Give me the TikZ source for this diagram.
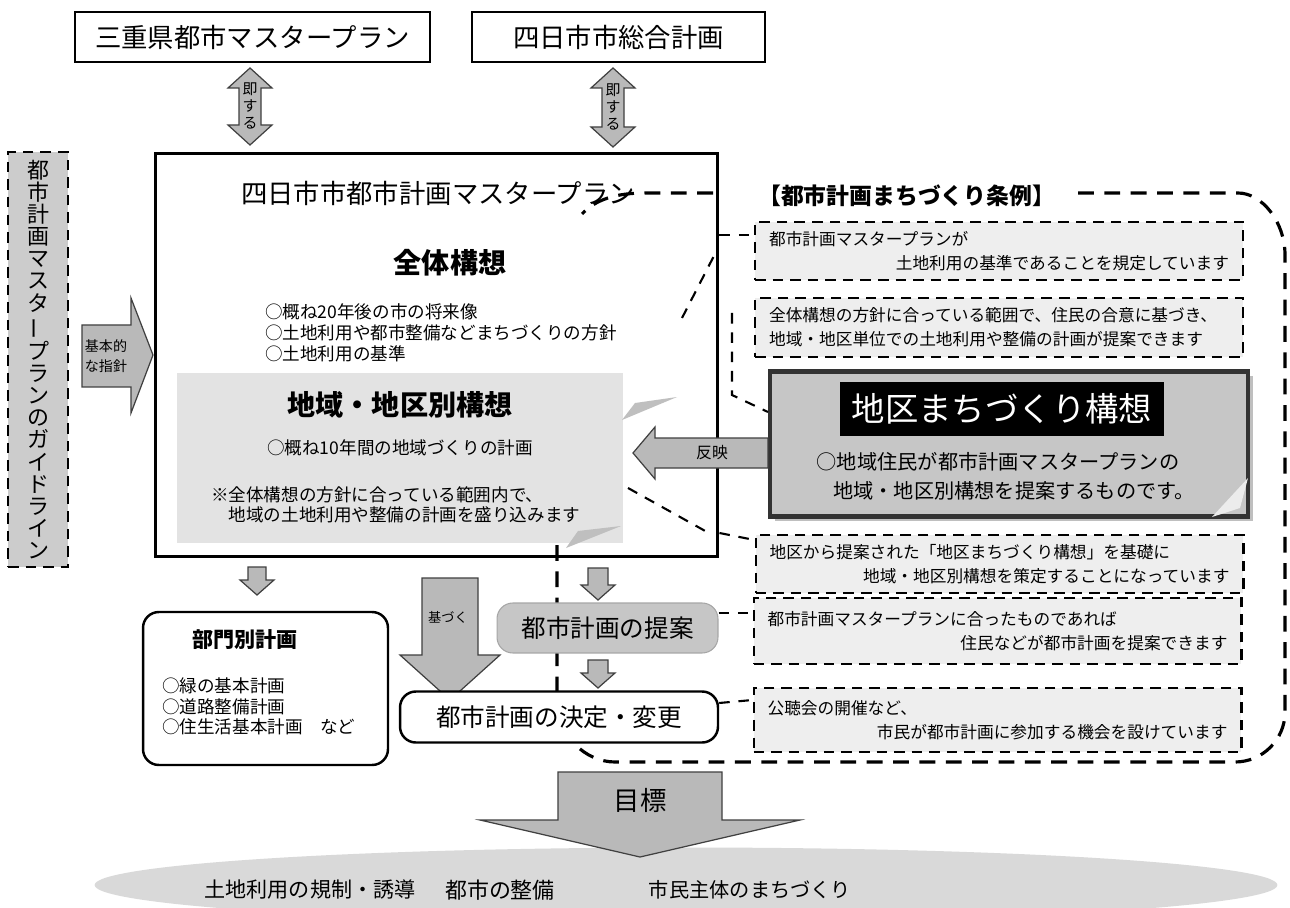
\documentclass[tikz,border=0pt]{standalone}
\usepackage{fontspec}
\setmainfont{Noto Sans CJK JP}
\usetikzlibrary{shapes.geometric,shadows}

\newcommand{\dblarrow}[3]{% centre x, top y, bottom y
  \filldraw[blockarrow] (#1,#2) -- (#1+22,#2+20) -- (#1+11,#2+20) -- (#1+11,#3-20) -- (#1+22,#3-20) -- (#1,#3) -- (#1-22,#3-20) -- (#1-11,#3-20) -- (#1-11,#2+20) -- (#1-22,#2+20) -- cycle;}
\newcommand{\downblk}[6]{% centre x, top y, tip y, half body, half head, head length
  \filldraw[blockarrow] (#1-#4,#2) -- (#1+#4,#2) -- (#1+#4,#3-#6) -- (#1+#5,#3-#6) -- (#1,#3) -- (#1-#5,#3-#6) -- (#1-#4,#3-#6) -- cycle;}

\begin{document}
\begin{tikzpicture}[x=0.02cm,y=-0.02cm,
  box/.style={draw,line width=1.4pt,fill=white,inner sep=0pt},
  roundbox/.style={box,rounded corners=9pt},
  rulebox/.style={draw,line width=1.2pt,dash pattern=on 6pt off 4pt,fill=gray!13,inner sep=0pt,
    minimum width=9.76cm,text width=9.2cm,align=left,font=\fontsize{9.5}{13.5}\selectfont},
  blockarrow/.style={fill=gray!55,draw=black!75,line width=0.7pt},
  linkdash/.style={line width=1.2pt,dash pattern=on 6pt off 5pt},
  loopdash/.style={line width=1.8pt,dash pattern=on 9pt off 6pt}]

  % page
  \useasboundingbox (0,0) rectangle (1290,908);
  \fill[white] (0,0) rectangle (1290,908);

  % goals at the bottom
  \node[ellipse,fill=gray!30,minimum width=23.66cm,minimum height=1.5cm] (goal) at (686,885) {};
  \downblk{640}{772}{857}{82}{160}{37}
  \node[font=\fontsize{15}{18}\selectfont] (mokuhyo) at (640,800) {目標};
  \node[font=\fontsize{12}{14}\selectfont] (kisei) at (310,890) {土地利用の規制・誘導};
  \node[font=\fontsize{12.5}{14}\selectfont] (seibi) at (500,890) {都市の整備};
  \node[font=\fontsize{11.5}{14}\selectfont] (shimin) at (750,890) {市民主体のまちづくり};

  % upper plans
  \node[box,minimum width=7.1cm,minimum height=1cm,font=\fontsize{15}{18}\selectfont] (mie) at (252.5,37) {三重県都市マスタープラン};
  \node[box,minimum width=5.86cm,minimum height=1cm,font=\fontsize{15}{18}\selectfont] (sogo) at (618.5,37) {四日市市総合計画};
  \dblarrow{250}{68}{145}
  \dblarrow{613}{68}{147}
  \node[font=\fontsize{8.5}{9.5}\selectfont,align=center] (soku1) at (250,106) {即\\す\\る};
  \node[font=\fontsize{8.5}{9.5}\selectfont,align=center] (soku2) at (613,107) {即\\す\\る};

  % guideline
  \node[draw,line width=1.3pt,dash pattern=on 6pt off 4pt,fill=gray!40,minimum width=1.2cm,minimum height=8.3cm,
    align=center,font=\fontsize{12.5}{12.6}\selectfont] (guide) at (38,359.5)
    {都\\市\\計\\画\\マ\\ス\\タ\\\rotatebox[origin=c]{90}{ー}\\プ\\ラ\\ン\\の\\ガ\\イ\\ド\\ラ\\イ\\ン};
  \filldraw[blockarrow] (82,325) -- (131,325) -- (131,298) -- (153,355) -- (131,413) -- (131,387) -- (82,387) -- cycle;
  \node[font=\fontsize{8}{11}\selectfont,align=center] (shishin) at (106,356) {基本的\\な指針};

  % city master plan
  \node[box,line width=1.7pt,minimum width=11.26cm,minimum height=8.08cm] (main) at (436.5,355) {};
  \fill[gray!22] (177,373) rectangle (623,543);
  \fill[gray!50] (622,420) -- (677,397) -- (635,403) -- cycle;
  \fill[gray!50] (566,548) -- (621,526) -- (578,531) -- cycle;
  \node[anchor=west,font=\fontsize{15}{18}\selectfont] (title) at (235,193) {四日市市都市計画マスタープラン};
  \node[font=\fontsize{16}{19}\selectfont\bfseries] (zentai) at (450,263) {全体構想};
  \node[anchor=north west,align=left,font=\fontsize{10}{12}\selectfont] (zentaitxt) at (259,297)
    {○概ね20年後の市の将来像\\○土地利用や都市整備などまちづくりの方針\\○土地利用の基準};
  \node[font=\fontsize{16}{19}\selectfont\bfseries] (chiiki) at (400,405) {地域・地区別構想};
  \node[font=\fontsize{10}{12}\selectfont] (chiikitxt) at (400,448) {○概ね10年間の地域づくりの計画};
  \node[anchor=north west,align=left,font=\fontsize{10}{11.5}\selectfont] (chuui) at (205,480)
    {※全体構想の方針に合っている範囲内で、\\\hspace*{1em}地域の土地利用や整備の計画を盛り込みます};

  % ordinance
  \node[anchor=west,font=\fontsize{13}{16}\selectfont\bfseries] (jorei) at (752,196) {【都市計画まちづくり条例】};
  \node[rulebox,minimum height=1.16cm] (rule1) at (999,251)
    {都市計画マスタープランが\\\hspace*{\fill}土地利用の基準であることを規定しています};
  \node[rulebox,minimum height=1.18cm] (rule2) at (999,327.5)
    {全体構想の方針に合っている範囲で、住民の合意に基づき、\\地域・地区単位での土地利用や整備の計画が提案できます};
  \node[rulebox,minimum height=1.16cm] (rule3) at (999.5,564)
    {地区から提案された「地区まちづくり構想」を基礎に\\\hspace*{\fill}地域・地区別構想を策定することになっています};
  \node[rulebox,minimum height=1.32cm] (rule4) at (997.5,631)
    {都市計画マスタープランに合ったものであれば\\\hspace*{\fill}住民などが都市計画を提案できます};
  \node[rulebox,minimum height=1.28cm] (rule5) at (997.5,720)
    {公聴会の開催など、\\\hspace*{\fill}市民が都市計画に参加する機会を設けています};

  % district concept
  \node[draw=black!80,line width=2.4pt,fill=gray!45,drop shadow,minimum width=9.56cm,minimum height=2.9cm] (chiku) at (1009,444) {};
  \fill[gray!15] (1212,517) -- (1248,478) -- (1240,508) -- cycle;
  \node[fill=black,text=white,minimum width=6.48cm,minimum height=1.1cm,font=\fontsize{19}{22}\selectfont] (chikuname) at (1002,409) {地区まちづくり構想};
  \node[font=\fontsize{11.5}{14}\selectfont] (chikutxt1) at (998,462) {○地域住民が都市計画マスタープランの};
  \node[font=\fontsize{11.5}{14}\selectfont] (chikutxt2) at (1014,491) {地域・地区別構想を提案するものです。};
  \filldraw[blockarrow] (chiku.west |- 0,438) -- (655,438) -- (655,427) -- (633,453) -- (655,479) -- (655,468) -- (chiku.west |- 0,468) -- cycle;
  \node[font=\fontsize{9}{11}\selectfont] (hanei) at (712,453) {反映};

  % links to the ordinance
  \draw[linkdash] (main.east |- 0,235) -- (rule1.west |- 0,235);
  \draw[linkdash] (682,318) -- (718,248);
  \draw[linkdash] (732,313) -- (732,395) -- (chiku.west |- 0,412);
  \draw[linkdash] (628,488) -- (707,532);
  \draw[linkdash] (main.east |- 0,533) -- (rule3.west |- 0,540);
  \draw[loopdash] (1078,193) -- (1238,193) .. controls (1262,193) and (1285,222) .. (1285,255) -- (1285,712)
    .. controls (1285,740) and (1262,762) .. (1235,762) -- (615,762) .. controls (585,762) and (557,735) .. (557,700) -- (557,545);
  \draw[loopdash] (713,193) -- (645,193) .. controls (615,193) and (595,200) .. (582,214);

  % plans below
  \downblk{257}{567}{595}{9}{17}{15}
  \node[roundbox,minimum width=4.9cm,minimum height=3.06cm] (bumon) at (265.5,688.5) {};
  \node[font=\fontsize{12}{14}\selectfont\bfseries] (bumontitle) at (245,640) {部門別計画};
  \node[anchor=north west,align=left,font=\fontsize{10}{11.5}\selectfont] (bumontxt) at (156,672)
    {○緑の基本計画\\○道路整備計画\\○住生活基本計画\quad など};
  \downblk{450}{578}{700}{28}{50}{45}
  \node[font=\fontsize{7.5}{9}\selectfont] (motozuku) at (448,617) {基づく};
  \downblk{598}{568}{600}{10}{17}{15}
  \node[roundbox,line width=0.6pt,draw=gray!70,fill=gray!45,minimum width=4.42cm,minimum height=1cm,font=\fontsize{14}{17}\selectfont] (teian) at (607.5,628) {都市計画の提案};
  \downblk{598}{660}{688}{10}{17}{15}
  \node[roundbox,minimum width=6.36cm,minimum height=1.02cm,font=\fontsize{14}{17}\selectfont] (kettei) at (559,717) {都市計画の決定・変更};
  \draw[linkdash] (teian.east |- 0,613) -- (rule4.west |- 0,613);
  \draw[linkdash] (kettei.east |- 0,703) -- (rule5.west |- 0,700);
\end{tikzpicture}
\end{document}
